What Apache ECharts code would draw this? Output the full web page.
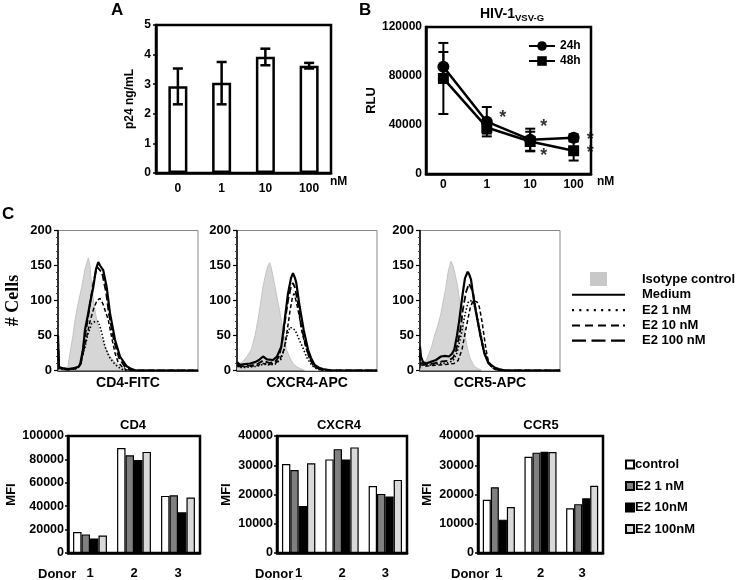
<!DOCTYPE html>
<html><head><meta charset="utf-8">
<script src="https://cdn.jsdelivr.net/npm/echarts@6/dist/echarts.min.js"></script>
<style>html,body{margin:0;padding:0;background:#fff}#c{width:741px;height:580px}</style>
</head><body><div id="c"></div>
<script>
// ---------- Panel A ----------
const doseA = ['0', '1', '10', '100'];
const p24Mean = [2.93, 3.05, 3.93, 3.62];
const p24Low = [2.32, 2.32, 3.64, 3.53];
const p24High = [3.53, 3.75, 4.20, 3.72];

// ---------- Panel B ----------
const doseB = ['0', '1', '10', '100'];
const doseBPos = [0, 1, 2, 3];
const rlu24 = [87600, 42700, 28000, 29500];
const rlu24Err = [12000, 12000, 9000, 3000];
const rlu48 = [78000, 38000, 26500, 19000];
const rlu48Err = [29000, 5000, 8000, 8000];
const starPoints = [[1.37, 46000], [2.31, 38000], [2.31, 14500], [3.38, 27500], [3.38, 17000]];

// ---------- Panel C histograms ([channel, #cells]) ----------
const isoCD4 = [[0,0],[8,2],[10,6],[12,25],[15,50],[17,72],[20,95],[23.7,119],[27,145],[30.3,161],[32,150],[33.7,119],[36,95],[38.7,72],[42,50],[47,34],[51,22],[55,15],[62,6],[69,1],[75,0],[140,0]];
const medCD4 = [[0,50],[1,5],[5,3],[10,2],[15,3],[20,5],[22,8],[25,30],[27,58],[30,80],[32,96],[35.3,119],[38,145],[40.3,155],[42,150],[45.3,143],[48.7,119],[52,82],[57,44],[62,20],[68.7,6],[73.7,2],[78,0],[140,0]];
const e100CD4 = [[0,45],[1,4],[10,2],[20,4],[23,10],[26,40],[30,75],[33,105],[36,130],[39,148],[41,150],[44,140],[48,112],[51,80],[56,42],[61,18],[67,5],[72,1],[78,0],[140,0]];
const e10CD4 = [[0,40],[1,3],[10,1],[20,3],[23.7,15],[26,30],[28.7,48],[32,70],[36,90],[39,100],[42,103],[45,95],[48,82],[50.3,72],[54,45],[57,25],[60,12],[63.7,6],[68,1],[72,0],[140,0]];
const e1CD4 = [[0,35],[1,3],[10,1],[20,3],[24,18],[27,34],[30,52],[33.7,67],[37,70],[40.3,70],[43,58],[47,34],[51,20],[55,12],[60,5],[65,1],[70,0],[140,0]];

const isoCX = [[0,5],[1,8],[6,13],[10,20],[14.3,30],[18,50],[21,72],[24,100],[26,120],[29,140],[31,150],[32.7,154],[34,148],[36,135],[39.3,110],[42,90],[44.3,72],[47,50],[49.3,30],[53,18],[56,10],[60,5],[63,3],[68,0],[140,0]];
const medCX = [[0,12],[3,8],[8,9],[13,10],[18,12],[22,15],[26,20],[30,16],[36,15],[40,20],[44.3,34],[47.7,72],[51,110],[54,132],[56,139],[58,132],[59.3,125],[62.7,91],[66.7,58],[71,30],[74,18],[77.7,8],[82,4],[86,2],[95,0],[140,0]];
const e100CX = [[0,8],[5,6],[13,7],[20,9],[26,14],[32,11],[38,12],[42,20],[45,38],[48,70],[51,100],[54,120],[56,125],[58,118],[61,95],[64,65],[68,40],[72,20],[76,8],[82,2],[90,0],[140,0]];
const e10CX = [[0,6],[5,5],[13,6],[20,7],[26,10],[32,9],[38,10],[43,16],[47,30],[50,55],[53,85],[55.5,105],[57,110],[59,100],[62,80],[65,55],[69,32],[73,15],[78,5],[84,1],[90,0],[140,0]];
const e1CX = [[0,6],[5,4],[13,5],[20,6],[26,9],[32,8],[38,9],[44,16],[47,30],[50,50],[53,62],[55,63],[58,58],[62,45],[66,32],[70,18],[75,7],[80,2],[86,0],[140,0]];

const isoCC = [[0,0],[2,6],[4.3,10],[7,17],[9.3,25],[12,36],[14.3,49],[18,65],[21,82],[24,105],[26,120],[28,140],[30,152],[31,156],[33,150],[35,138],[37.7,120],[40,95],[42.7,72],[45,50],[47.7,30],[50,18],[52.7,10],[55,5],[57.7,3],[62,0],[140,0]];
const medCC = [[0,34],[1,20],[3,12],[6,10],[10,12],[16,15],[21,20],[25,21],[29,20],[32,24],[34.3,30],[37,50],[39.3,72],[42.7,110],[45,132],[47.7,141],[49,138],[51,130],[54.3,96],[59.3,58],[64.3,25],[68,12],[71,8],[75,4],[79,2],[85,0],[140,0]];
const e100CC = [[0,25],[1,12],[4,8],[10,9],[16,11],[22,13],[28,14],[33,18],[36,28],[40,55],[43,88],[46,112],[49,124],[51,125],[53,112],[56,85],[60,52],[64,26],[68,11],[73,4],[78,1],[84,0],[140,0]];
const e10CC = [[0,20],[1,8],[5,6],[12,7],[20,8],[28,9],[34,10],[38,14],[42,30],[46,60],[50,88],[53,100],[55,102],[57,98],[59.3,91],[62,70],[65,40],[67,22],[69,10],[72,4],[76,1],[80,0],[140,0]];
const e1CC = [[0,22],[1,10],[5,7],[12,8],[20,10],[28,11],[33,14],[37,25],[41,50],[45,80],[48,97],[50,100],[53,98],[56,85],[60,58],[64,30],[68,13],[72,5],[77,1],[82,0],[140,0]];

const histTitles = ['CD4-FITC', 'CXCR4-APC', 'CCR5-APC'];

// ---------- Panel C MFI bars ----------
const donors = ['1', '2', '3'];
const cd4Control = [17900, 89700, 48800];
const cd4E1 = [15900, 83500, 49300];
const cd4E10 = [12500, 79400, 34800];
const cd4E100 = [15000, 86400, 47400];
const cxcr4Control = [30400, 32000, 22900];
const cxcr4E1 = [28400, 35500, 20200];
const cxcr4E10 = [16100, 32000, 19300];
const cxcr4E100 = [30700, 36100, 25000];
const ccr5Control = [18200, 32900, 15300];
const ccr5E1 = [22500, 34300, 16700];
const ccr5E10 = [11400, 34600, 18700];
const ccr5E100 = [15700, 34500, 23000];
const mfiTitles = ['CD4', 'CXCR4', 'CCR5'];

// ---------- styling ----------
const FONT = '"Liberation Sans", Arial, sans-serif';
const T = (size, extra) => Object.assign({fontFamily: FONT, fontWeight: 'bold', fontSize: size, color: '#000'}, extra || {});
const noSplit = {show: false};

function errSeries(xi, data, capW, lw) {
  return {
    type: 'custom', xAxisIndex: xi, yAxisIndex: xi, data: data, z: 6, silent: true,
    renderItem: function (params, api) {
      const x = api.value(0), lo = api.value(1), hi = api.value(2);
      const p1 = api.coord([x, lo]), p2 = api.coord([x, hi]);
      const st = {stroke: '#000', lineWidth: lw};
      return {type: 'group', children: [
        {type: 'line', shape: {x1: p1[0], y1: p1[1], x2: p2[0], y2: p2[1]}, style: st},
        {type: 'line', shape: {x1: p1[0] - capW / 2, y1: p1[1], x2: p1[0] + capW / 2, y2: p1[1]}, style: st},
        {type: 'line', shape: {x1: p2[0] - capW / 2, y1: p2[1], x2: p2[0] + capW / 2, y2: p2[1]}, style: st}
      ]};
    }
  };
}

const grid = [
  {left: 156, top: 25, width: 175, height: 148, show: true, borderColor: '#000', borderWidth: 2.5},
  {left: 426, top: 27, width: 165, height: 147, show: true, borderColor: '#000', borderWidth: 2.5},
  {left: 58, top: 230.5, width: 140, height: 140, show: true, borderColor: '#888', borderWidth: 1},
  {left: 237, top: 230.5, width: 140, height: 140, show: true, borderColor: '#888', borderWidth: 1},
  {left: 420, top: 230.5, width: 140, height: 140, show: true, borderColor: '#888', borderWidth: 1},
  {left: 68, top: 436, width: 132, height: 119, show: true, borderColor: '#000', borderWidth: 2.5},
  {left: 277, top: 436, width: 130, height: 118, show: true, borderColor: '#000', borderWidth: 2.5},
  {left: 478, top: 436, width: 125, height: 118, show: true, borderColor: '#000', borderWidth: 2.5}
];

const thickLine = {show: true, onZero: false, lineStyle: {color: '#000', width: 2.5}};
const xAxis = [
  {gridIndex: 0, type: 'category', data: doseA, axisLine: thickLine, axisTick: {show: false},
   axisLabel: T(12, {margin: 10}), splitLine: noSplit},
  {gridIndex: 1, type: 'value', min: -0.4, max: 3.4, axisLine: thickLine, axisTick: {show: false},
   axisLabel: T(12, {margin: 5, customValues: doseBPos, formatter: v => doseB[Math.round(v)]}), splitLine: noSplit}
];
const yAxis = [
  {gridIndex: 0, type: 'value', min: 0, max: 5, interval: 1, axisLine: thickLine,
   axisTick: {show: true, length: 3, lineStyle: {width: 1.5}}, axisLabel: T(12, {margin: 5}), splitLine: noSplit,
   name: 'p24 ng/mL', nameLocation: 'middle', nameGap: 20, nameTextStyle: T(12)},
  {gridIndex: 1, type: 'value', min: 0, max: 120000, interval: 40000, axisLine: thickLine,
   axisTick: {show: false}, axisLabel: T(12, {margin: 4, formatter: v => String(v)}), splitLine: noSplit,
   name: 'RLU', nameLocation: 'middle', nameGap: 47, nameTextStyle: T(13)}
];
for (let i = 0; i < 3; i++) {
  xAxis.push({gridIndex: 2 + i, type: 'value', min: 0, max: 140,
    axisLine: {show: true, onZero: false, lineStyle: {color: '#000', width: 1.5}}, axisTick: {show: false}, axisLabel: {show: false},
    splitLine: noSplit, name: histTitles[i], nameLocation: 'middle', nameGap: 6,
    nameTextStyle: T(14, {verticalAlign: 'top'})});
  const ya = {gridIndex: 2 + i, type: 'value', min: 0, max: 200, interval: 50,
    axisLine: {show: true, onZero: false, lineStyle: {color: '#000', width: 1.5}},
    axisTick: {show: true, length: 4, lineStyle: {color: '#000', width: 1.2}},
    minorTick: {show: true, splitNumber: 5, length: 2, lineStyle: {color: '#444', width: 1}},
    axisLabel: T(13, {margin: 6}), splitLine: noSplit};
  if (i === 0) {
    ya.name = '# Cells'; ya.nameLocation = 'middle'; ya.nameGap = 36;
    ya.nameTextStyle = {fontFamily: '"Liberation Serif", "DejaVu Serif", serif', fontWeight: 'bold', fontSize: 18, color: '#000'};
  }
  yAxis.push(ya);
}
const mfiMax = [100000, 40000, 40000];
const mfiInt = [20000, 10000, 10000];
const mfiGap = [46, 44, 44];
for (let i = 0; i < 3; i++) {
  xAxis.push({gridIndex: 5 + i, type: 'category', data: donors, axisLine: thickLine, axisTick: {show: false},
    axisLabel: T(13, {margin: 14}), splitLine: noSplit});
  yAxis.push({gridIndex: 5 + i, type: 'value', min: 0, max: mfiMax[i], interval: mfiInt[i], axisLine: thickLine,
    axisTick: {show: true, length: 3, lineStyle: {width: 1.5}}, axisLabel: T(12.5, {margin: 4, formatter: v => String(v)}),
    splitLine: noSplit, name: 'MFI', nameLocation: 'middle', nameGap: mfiGap[i], nameTextStyle: T(13)});
}

const series = [];
// Panel A
series.push({type: 'bar', xAxisIndex: 0, yAxisIndex: 0, data: p24Mean, barWidth: 19,
  itemStyle: {color: '#fff', borderColor: '#000', borderWidth: 2.5}});
series.push(errSeries(0, doseA.map((d, i) => [i, p24Low[i], p24High[i]]), 10, 2.5));
// Panel B
series.push(errSeries(1, doseBPos.map((x, i) => [x, rlu24[i] - rlu24Err[i], rlu24[i] + rlu24Err[i]]), 10, 2));
series.push(errSeries(1, doseBPos.map((x, i) => [x, rlu48[i] - rlu48Err[i], rlu48[i] + rlu48Err[i]]), 10, 2));
series.push({type: 'line', name: '24h', xAxisIndex: 1, yAxisIndex: 1, data: doseBPos.map((x, i) => [x, rlu24[i]]),
  symbol: 'circle', symbolSize: 12, lineStyle: {color: '#000', width: 2.5}, itemStyle: {color: '#000'}, z: 7});
series.push({type: 'line', name: '48h', xAxisIndex: 1, yAxisIndex: 1, data: doseBPos.map((x, i) => [x, rlu48[i]]),
  symbol: 'rect', symbolSize: 11, lineStyle: {color: '#000', width: 2.5}, itemStyle: {color: '#000'}, z: 7});
series.push({type: 'scatter', xAxisIndex: 1, yAxisIndex: 1, data: starPoints, symbolSize: 2, clip: false,
  itemStyle: {color: 'rgba(0,0,0,0)'}, silent: true, z: 8,
  label: {show: true, formatter: '*', position: 'inside', fontFamily: FONT, fontWeight: 'bold', fontSize: 18, color: '#000'}});

// Panel C histograms
const histSets = [
  [isoCD4, e1CD4, e10CD4, e100CD4, medCD4],
  [isoCX, e1CX, e10CX, e100CX, medCX],
  [isoCC, e1CC, e10CC, e100CC, medCC]
];
const histNames = ['Isotype control', 'E2 1 nM', 'E2 10 nM', 'E2 100 nM', 'Medium'];
const histLine = [
  {color: '#c4c4c4', width: 1},
  {color: '#000', width: 1.6, type: [1.5, 2]},
  {color: '#000', width: 1.5, type: [4, 2.5]},
  {color: '#000', width: 1.8, type: [7, 3]},
  {color: '#000', width: 2.2}
];
for (let g = 0; g < 3; g++) {
  for (let k = 0; k < 5; k++) {
    const s = {type: 'line', name: histNames[k], xAxisIndex: 2 + g, yAxisIndex: 2 + g, data: histSets[g][k],
      symbol: 'none', smooth: false, lineStyle: histLine[k], itemStyle: {color: histLine[k].color}, z: 3 + k, silent: true};
    if (k === 0) { s.areaStyle = {color: '#d6d6d6', opacity: 1}; s.itemStyle = {color: '#c8c8c8'}; }
    series.push(s);
  }
}

// Panel C MFI bars
const barNames = ['control', 'E2 1\u00a0nM', 'E2 10nM', 'E2 100nM'];
const barColors = ['#ffffff', '#808080', '#000000', '#d9d9d9'];
const barSets = [
  [cd4Control, cd4E1, cd4E10, cd4E100],
  [cxcr4Control, cxcr4E1, cxcr4E10, cxcr4E100],
  [ccr5Control, ccr5E1, ccr5E10, ccr5E100]
];
for (let g = 0; g < 3; g++) {
  for (let k = 0; k < 4; k++) {
    series.push({type: 'bar', name: barNames[k], xAxisIndex: 5 + g, yAxisIndex: 5 + g, data: barSets[g][k],
      barGap: '0%', barCategoryGap: '23%',
      itemStyle: {color: barColors[k], borderColor: '#000', borderWidth: 1.2}});
  }
}

const legend = [
  {left: 528, top: 40, padding: 0, orient: 'vertical', itemWidth: 26, itemHeight: 12, itemGap: 3,
   data: ['24h', '48h'], textStyle: T(12), selectedMode: false},
  {left: 572, top: 272, padding: 0, orient: 'vertical', itemWidth: 53, itemHeight: 14, itemGap: 2.3, selectedMode: false,
   textStyle: T(13, {padding: [0, 0, 0, 12]}),
   data: [
     {name: 'Isotype control', icon: 'path://M0 0H17V14H0Z', itemStyle: {color: '#c8c8c8', borderWidth: 0}},
     {name: 'Medium', icon: 'path://M0 0H53V2H0Z', itemStyle: {color: '#000', borderWidth: 0}},
     {name: 'E2 1 nM', icon: 'path://M0 0h2v2h-2z M7 0h2v2h-2z M14 0h2v2h-2z M21 0h2v2h-2z M28 0h2v2h-2z M35 0h2v2h-2z M42 0h2v2h-2z M49 0h2v2h-2z', itemStyle: {color: '#000', borderWidth: 0}},
     {name: 'E2 10 nM', icon: 'path://M0 0h8v2h-8z M13 0h8v2h-8z M26 0h8v2h-8z M39 0h8v2h-8z M51 0h2v2h-2z', itemStyle: {color: '#000', borderWidth: 0}},
     {name: 'E2 100 nM', icon: 'path://M0 0h14v2.2h-14z M19.5 0h14v2.2h-14z M39 0h14v2.2h-14z', itemStyle: {color: '#000', borderWidth: 0}}
   ]},
  {left: 625, top: 458, padding: 0, orient: 'vertical', itemWidth: 8, itemHeight: 8, itemGap: 8.5, icon: 'rect', selectedMode: false,
   textStyle: T(13, {padding: [0, 0, 0, -4]}), data: barNames}
];

const title = [
  {text: 'HIV-1{s|VSV-G}', left: 480, top: 5, padding: 0, textStyle: T(14, {rich: {s: T(9.5, {padding: [8, 0, 0, 0]})}})},
  {text: 'CD4', left: 133, top: 419, padding: 0, textAlign: 'center', textStyle: T(13)},
  {text: 'CXCR4', left: 339, top: 419, padding: 0, textAlign: 'center', textStyle: T(13)},
  {text: 'CCR5', left: 541, top: 419, padding: 0, textAlign: 'center', textStyle: T(13)}
];

const graphic = [
  {type: 'text', left: 111, top: 2, style: {text: 'A', font: 'bold 17px ' + FONT, fill: '#000'}},
  {type: 'text', left: 359, top: 2, style: {text: 'B', font: 'bold 17px ' + FONT, fill: '#000'}},
  {type: 'text', left: 2, top: 206, style: {text: 'C', font: 'bold 17px ' + FONT, fill: '#000'}},
  {type: 'text', left: 330, top: 176, style: {text: 'nM', font: 'bold 12px ' + FONT, fill: '#000'}},
  {type: 'text', left: 597, top: 176, style: {text: 'nM', font: 'bold 12px ' + FONT, fill: '#000'}},
  {type: 'text', left: 38, top: 568, style: {text: 'Donor', font: 'bold 13px ' + FONT, fill: '#000'}},
  {type: 'text', left: 255, top: 568, style: {text: 'Donor', font: 'bold 13px ' + FONT, fill: '#000'}},
  {type: 'text', left: 451, top: 568, style: {text: 'Donor', font: 'bold 13px ' + FONT, fill: '#000'}}
];

const chart = echarts.init(document.getElementById('c'));
chart.setOption({animation: false, backgroundColor: '#fff', grid, xAxis, yAxis, series, legend, title, graphic});
</script>
</body></html>
